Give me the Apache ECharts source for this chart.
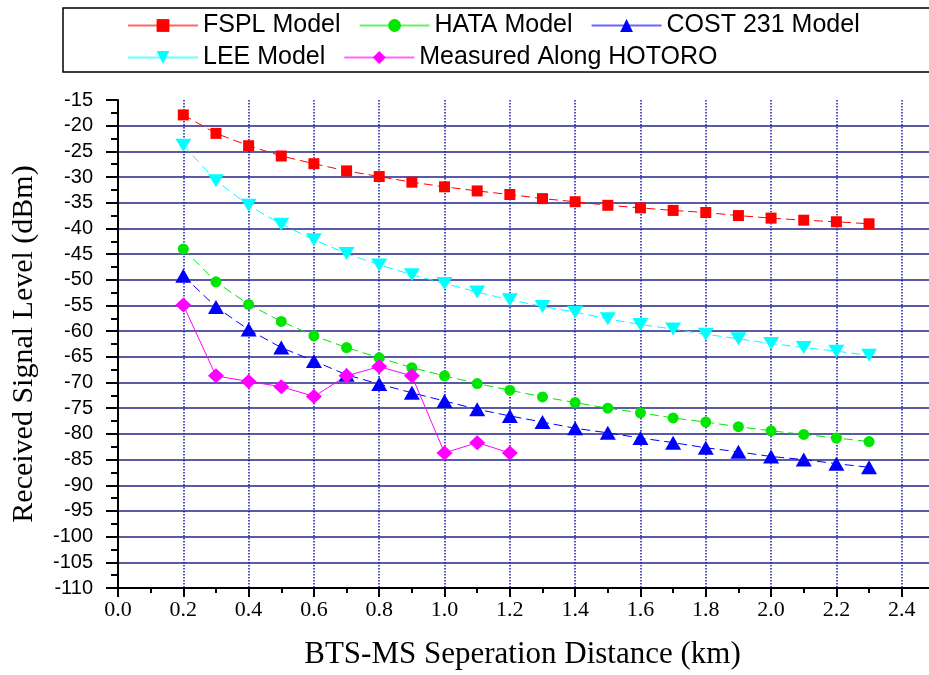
<!DOCTYPE html>
<html>
<head>
<meta charset="utf-8">
<title>Received signal level</title>
<style>
  html, body { margin: 0; padding: 0; background: #fff; overflow: hidden; }
</style>
</head>
<body>
<!-- the plot runs past the right edge in the original, so the canvas is wider than the window -->
<div id="main" style="width: 975px;height:675px;"></div>
<script src="https://cdn.jsdelivr.net/npm/echarts@6/dist/echarts.min.js"></script>
<script>
var distance = [0.2, 0.3, 0.4, 0.5, 0.6, 0.7, 0.8, 0.9, 1.0, 1.1, 1.2,
    1.3, 1.4, 1.5, 1.6, 1.7, 1.8, 1.9, 2.0, 2.1, 2.2, 2.3];
var fspl = [-17.9, -21.5, -23.9, -25.9, -27.4, -28.8, -29.9, -31.0, -31.9, -32.7, -33.4,
    -34.2, -34.8, -35.5, -36.0, -36.5, -36.9, -37.5, -38.0, -38.4, -38.7, -39.1];
var hata = [-44.0, -50.4, -54.8, -58.1, -60.9, -63.2, -65.2, -67.1, -68.7, -70.2, -71.5,
    -72.8, -73.9, -75.0, -75.9, -76.9, -77.7, -78.6, -79.4, -80.1, -80.8, -81.5];
var cost231 = [-49.2, -55.3, -59.7, -63.2, -65.8, -68.5, -70.3, -72.0, -73.6, -75.2, -76.5,
    -77.7, -78.9, -79.8, -80.8, -81.7, -82.7, -83.5, -84.4, -85.0, -85.8, -86.5];
var lee = [-23.8, -30.7, -35.5, -39.2, -42.2, -44.9, -47.1, -49.0, -50.7, -52.4, -53.9,
    -55.2, -56.3, -57.6, -58.7, -59.6, -60.6, -61.5, -62.4, -63.2, -63.9, -64.7];
var measuredDistance = [0.2, 0.3, 0.4, 0.5, 0.6, 0.7, 0.8, 0.9, 1.0, 1.1, 1.2];
var measured = [-54.9, -68.7, -69.8, -70.8, -72.7, -68.7, -66.9, -68.7, -83.7, -81.7, -83.7];

function pairs(xs, ys) {
    return xs.map(function (x, i) { return [x, ys[i]]; });
}

var myChart = echarts.init(document.getElementById('main'));

var dash = [9, 5];
function model(name, color, data, symbol, size, rotate) {
    return {
        name: name,
        type: 'line',
        data: data,
        symbol: symbol,
        symbolSize: size,
        symbolRotate: rotate || 0,
        itemStyle: { color: color },
        lineStyle: { color: color, width: 1, type: dash },
        emphasis: { disabled: true },
        animation: false
    };
}

var legendText = {
    fontFamily: 'Liberation Sans',
    fontSize: 25,
    color: '#000'
};

option = {
    backgroundColor: '#fff',
    graphic: [{
        type: 'rect',
        shape: { x: 63, y: 8, width: 900, height: 64 },
        style: { fill: 'none', stroke: '#000', lineWidth: 1.5 }
    }],
    legend: [{
        left: 127, top: 13, padding: 0,
        itemWidth: 70, itemHeight: 16, itemGap: 18,
        lineStyle: { type: 'solid', opacity: 0.6 },
        textStyle: legendText,
        data: ['FSPL Model', 'HATA Model', 'COST 231 Model']
    }, {
        left: 127, top: 45, padding: 0,
        itemWidth: 70, itemHeight: 16, itemGap: 18,
        lineStyle: { type: 'solid', opacity: 0.6 },
        textStyle: legendText,
        data: ['LEE Model', 'Measured Along HOTORO']
    }],
    grid: {
        left: 118,
        width: 849,
        top: 100,
        bottom: 84,
        containLabel: false
    },
    xAxis: {
        type: 'value',
        min: 0,
        max: 2.6,
        interval: 0.2,
        name: 'BTS-MS Seperation Distance (km)',
        nameLocation: 'middle',
        nameGap: 51,
        nameTextStyle: {
            fontFamily: 'Liberation Serif',
            fontSize: 31,
            color: '#000',
            padding: [0, 40, 0, 0]
        },
        axisLine: { lineStyle: { color: '#000', width: 2 } },
        axisTick: { show: true, length: 9, lineStyle: { color: '#000', width: 2 } },
        minorTick: { show: true, splitNumber: 2, length: 5, lineStyle: { color: '#000', width: 2 } },
        axisLabel: {
            fontFamily: 'Liberation Serif',
            fontSize: 22,
            color: '#000',
            margin: 11,
            formatter: function (v) {
                return v > 2.41 ? '' : v.toFixed(1);
            }
        },
        splitLine: {
            show: true,
            showMinLine: false,
            lineStyle: { color: '#1a1ab0', width: 1.5, type: 'dotted' }
        }
    },
    yAxis: {
        type: 'value',
        min: -110,
        max: -15,
        interval: 5,
        name: 'Received Signal Level (dBm)',
        nameLocation: 'middle',
        nameGap: 79,
        nameTextStyle: {
            fontFamily: 'Liberation Serif',
            fontSize: 30,
            color: '#000'
        },
        axisLine: { show: true, lineStyle: { color: '#000', width: 2 } },
        axisTick: { show: true, length: 12, lineStyle: { color: '#000', width: 2 } },
        minorTick: { show: true, splitNumber: 2, length: 7, lineStyle: { color: '#000', width: 2 } },
        axisLabel: {
            fontFamily: 'Liberation Sans',
            fontSize: 20,
            color: '#000',
            margin: 25
        },
        splitLine: {
            show: true,
            showMaxLine: false,
            showMinLine: false,
            lineStyle: { color: '#23238a', width: 1.6 }
        }
    },
    series: [
        model('FSPL Model', '#ff0000', pairs(distance, fspl), 'rect', 11),
        model('HATA Model', '#00e600', pairs(distance, hata), 'circle', 11),
        model('COST 231 Model', '#0000ff', pairs(distance, cost231), 'triangle', [16, 14]),
        model('LEE Model', '#00ffff', pairs(distance, lee), 'triangle', [16, 13], 180),
        {
            name: 'Measured Along HOTORO',
            type: 'line',
            data: pairs(measuredDistance, measured),
            symbol: 'diamond',
            symbolSize: [16, 15],
            itemStyle: { color: '#ff00ff' },
            lineStyle: { color: '#ff00ff', width: 1 },
            emphasis: { disabled: true },
            animation: false
        }
    ]
};

myChart.setOption(option);
</script>
</body>
</html>
